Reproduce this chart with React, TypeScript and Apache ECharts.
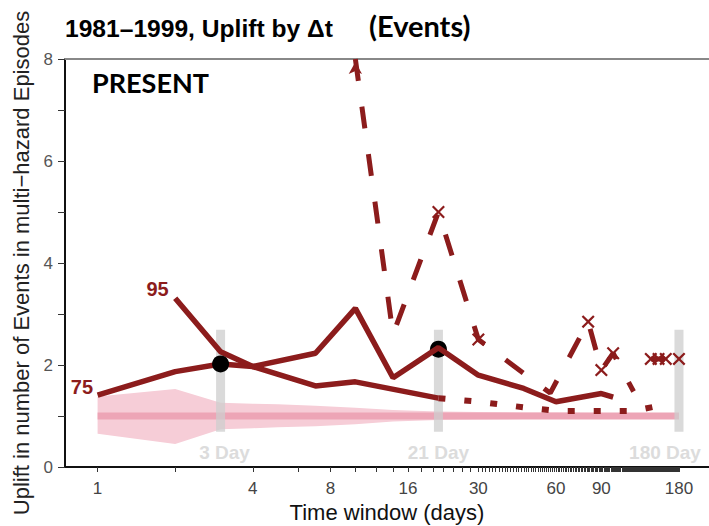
import React, { useEffect, useRef } from "react";
import * as echarts from "echarts";

// ---- data (time windows in days, uplift values) ----
const P75_DAYS = [1, 2, 3, 4, 7, 10, 14, 21, 30, 45, 60, 90, 100];
const P75_VALS = [1.41, 1.87, 2.02, 1.97, 2.23, 3.11, 1.75, 2.34, 1.8, 1.54, 1.28, 1.44, 1.37];

const P95_DAYS = [2, 3, 4, 7, 10, 21];
const P95_VALS = [3.31, 2.26, 1.97, 1.59, 1.67, 1.35];

const P95_DOT_DAYS = [21, 30, 45, 60, 120, 150, 151];
const P95_DOT_VALS = [1.35, 1.28, 1.17, 1.1, 1.1, 1.2, 1.04];

const P99_DAYS = [10, 14, 21, 30, 57, 80, 90, 100, 120];
const P99_VALS = [8, 2.6, 5.0, 2.5, 1.45, 2.85, 1.9, 2.23, 1.48];
const P99_MARKED = [21, 30, 80, 90, 100];

const P99_TAIL_DAYS = [140, 150, 160, 180];
const P99_TAIL_VALS = [2.12, 2.12, 2.12, 2.12];

const BAND_DAYS = [1, 2, 3, 4, 5, 7, 10, 14, 21, 30, 45, 60, 90, 120, 180];
const BAND_HI = [1.38, 1.53, 1.26, 1.24, 1.23, 1.2, 1.16, 1.12, 1.09, 1.08, 1.07, 1.07, 1.06, 1.06, 1.05];
const BAND_LO = [0.65, 0.45, 0.74, 0.76, 0.78, 0.8, 0.84, 0.89, 0.92, 0.93, 0.94, 0.95, 0.95, 0.96, 0.96];
const BASELINE = 1.0;

const WINDOW_DAYS = [3, 21, 180];
const WINDOW_LABELS = ["3 Day", "21 Day", "180 Day"];
const WINDOW_LO = 0.69;
const WINDOW_HI = 2.69;
const WINDOW_LABEL_Y = 0.29;

const HIGHLIGHT_DAYS = [3, 21];
const HIGHLIGHT_VALS = [2.02, 2.31];

const CURVE_NAMES = ["75", "95"];

const X_LABEL_DAYS = [1, 4, 8, 16, 30, 60, 90, 180];
const X_TICK_DAYS: number[] = [1, 2, 4, 6, 8, 10, 12, 14, 16, 18, 20, 22, 24, 26, 28];
for (let d = 30; d <= 180; d++) X_TICK_DAYS.push(d);

const lg = (d: number) => Math.log2(d);

const RED = "#8C1C1C";
const CROSS = "path://M0,1.2L1.2,0L5,3.8L8.8,0L10,1.2L6.2,5L10,8.8L8.8,10L5,6.2L1.2,10L0,8.8L3.8,5Z";
const SANS = '"Liberation Sans", Arial, sans-serif';
const CAL = 'Lato, "Open Sans", sans-serif';

const curveLabel = (text: string, dist: number, dy: number) => ({
  show: true,
  formatter: text,
  position: "left",
  distance: dist,
  offset: [0, dy],
  fontFamily: SANS,
  fontWeight: "bold",
  fontSize: 20,
  color: RED,
});

export default function App() {
  const ref = useRef<HTMLDivElement>(null);

  useEffect(() => {
    if (!ref.current) return;
    const chart = echarts.init(ref.current, null, { renderer: "svg" });

    const xMin = -0.42;
    const xMax = 7.879;

    const option: any = {
      animation: false,
      backgroundColor: "#ffffff",
      grid: { left: 65, right: 0, top: 59, bottom: 59, outerBoundsMode: "none", containLabel: false },
      xAxis: [
        {
          type: "value",
          min: xMin,
          max: xMax,
          name: "Time window (days)",
          nameLocation: "middle",
          nameGap: 33,
          nameTextStyle: { fontFamily: SANS, fontSize: 22, color: "#111" },
          axisLine: { show: true, onZero: false, lineStyle: { color: "#111", width: 2 } },
          axisTick: {
            show: true,
            customValues: X_TICK_DAYS.map(lg),
            length: 5,
            lineStyle: { color: "#333", width: 1 },
          },
          axisLabel: {
            customValues: X_LABEL_DAYS.map(lg),
            formatter: (v: number) => String(Math.round(Math.pow(2, v))),
            fontFamily: SANS,
            fontSize: 17,
            color: "#444",
            margin: 13,
          },
          splitLine: { show: false },
        },
        {
          type: "value",
          position: "top",
          min: xMin,
          max: xMax,
          axisLine: { show: true, onZero: false, lineStyle: { color: "#888", width: 2 } },
          axisTick: { show: false },
          axisLabel: { show: false },
          splitLine: { show: false },
        },
      ],
      yAxis: {
        type: "value",
        min: 0,
        max: 8,
        interval: 1,
        name: "Uplift in number of Events in multi\u2212hazard Episodes",
        nameLocation: "middle",
        nameGap: 33,
        nameTextStyle: { fontFamily: SANS, fontSize: 22, color: "#222" },
        axisLine: { show: true, onZero: false, lineStyle: { color: "#111", width: 2 } },
        axisTick: { show: true, length: 7, lineStyle: { color: "#333", width: 1 } },
        axisLabel: {
          formatter: (v: number) => (v % 2 === 0 ? String(v) : ""),
          fontFamily: SANS,
          fontSize: 17,
          color: "#555",
          margin: 12,
        },
        splitLine: { show: false },
      },
      graphic: [
        {
          type: "text",
          left: 65,
          top: 16,
          style: { text: "1981\u20131999, Uplift by \u0394t", fontFamily: SANS, fontWeight: "bold", fontSize: 24.6, fill: "#000" },
        },
        {
          type: "text",
          left: 369,
          top: 11,
          style: { text: "(Events)", fontFamily: CAL, fontWeight: "bold", fontSize: 29, fill: "#000" },
        },
        {
          type: "text",
          left: 92,
          top: 69,
          style: { text: "PRESENT", fontFamily: CAL, fontWeight: "bold", fontSize: 27, fill: "#000" },
        },
      ],
      series: [
        {
          type: "custom",
          z: 1,
          silent: true,
          data: [[0, 0]],
          renderItem: (_p: any, api: any) => {
            const top = BAND_DAYS.map((d, i) => api.coord([lg(d), BAND_HI[i]]));
            const bot = BAND_DAYS.map((d, i) => api.coord([lg(d), BAND_LO[i]])).reverse();
            return { type: "polygon", shape: { points: top.concat(bot) }, style: { fill: "#F6CDD7" } };
          },
        },
        {
          type: "line",
          z: 2,
          silent: true,
          symbol: "none",
          data: [[lg(1), BASELINE], [lg(180), BASELINE]],
          lineStyle: { color: "#EDA5B6", width: 7 },
        },
        {
          type: "custom",
          z: 3,
          silent: true,
          data: WINDOW_DAYS.map((d, i) => [lg(d), WINDOW_LO, WINDOW_HI, i]),
          renderItem: (_p: any, api: any) => {
            const x = api.value(0);
            const i = api.value(3);
            const pTop = api.coord([x, api.value(2)]);
            const pBot = api.coord([x, api.value(1)]);
            const pLab = api.coord([x, WINDOW_LABEL_Y]);
            const lx = Math.min(pLab[0] + (i === 0 ? 4 : 0), 665);
            return {
              type: "group",
              children: [
                {
                  type: "rect",
                  shape: { x: pTop[0] - 4.5, y: pTop[1], width: 9, height: pBot[1] - pTop[1] },
                  style: { fill: "rgba(205,205,205,0.75)" },
                },
                {
                  type: "text",
                  style: {
                    text: WINDOW_LABELS[i],
                    x: lx,
                    y: pLab[1],
                    align: "center",
                    verticalAlign: "middle",
                    fontFamily: SANS,
                    fontWeight: "bold",
                    fontSize: 19,
                    fill: "#DCDCDC",
                  },
                },
              ],
            };
          },
        },
        {
          type: "scatter",
          z: 4,
          silent: true,
          symbolSize: 17,
          itemStyle: { color: "#000", opacity: 1 },
          data: [[lg(HIGHLIGHT_DAYS[1]), HIGHLIGHT_VALS[1]]],
        },
        {
          type: "line",
          z: 5,
          silent: true,
          symbol: "none",
          data: P75_DAYS.map((d, i) => [lg(d), P75_VALS[i]]),
          lineStyle: { color: RED, width: 5.5 },
        },
        {
          type: "line",
          z: 5,
          silent: true,
          symbol: "none",
          data: P95_DAYS.map((d, i) => [lg(d), P95_VALS[i]]),
          lineStyle: { color: RED, width: 5.5 },
        },
        {
          type: "line",
          z: 5,
          silent: true,
          symbol: "none",
          data: P95_DOT_DAYS.map((d, i) => [lg(d), P95_DOT_VALS[i]]),
          lineStyle: { color: RED, width: 6, type: [7, 19], cap: "butt" },
        },
        {
          type: "line",
          z: 5,
          silent: true,
          showAllSymbol: true,
          itemStyle: { color: RED },
          data: P99_DAYS.map((d, i) => {
            if (i === 0) return { value: [lg(d), P99_VALS[i]], symbol: "arrow", symbolSize: [10, 12], symbolOffset: [0, 3] };
            if (P99_MARKED.includes(d)) return { value: [lg(d), P99_VALS[i]], symbol: CROSS, symbolSize: 13 };
            return { value: [lg(d), P99_VALS[i]], symbol: "none" };
          }),
          lineStyle: { color: RED, width: 5, type: [22, 26], cap: "butt" },
        },
        {
          type: "line",
          z: 5,
          silent: true,
          showAllSymbol: true,
          symbol: CROSS,
          symbolSize: 13,
          itemStyle: { color: RED },
          data: P99_TAIL_DAYS.map((d, i) => [lg(d), P99_TAIL_VALS[i]]),
          lineStyle: { color: RED, width: 5, type: [14, 14], cap: "butt" },
        },
        {
          type: "scatter",
          z: 6,
          silent: true,
          symbolSize: 17,
          itemStyle: { color: "#000", opacity: 1 },
          data: [[lg(HIGHLIGHT_DAYS[0]), HIGHLIGHT_VALS[0]]],
        },
        {
          // curve names next to the start of the 75th and 95th percentile lines
          type: "scatter",
          z: 7,
          silent: true,
          symbolSize: 1,
          itemStyle: { color: "rgba(0,0,0,0)", opacity: 1 },
          data: [
            { value: [lg(P75_DAYS[0]), P75_VALS[0]], label: curveLabel(CURVE_NAMES[0], 4, -8) },
            { value: [lg(P95_DAYS[0]), P95_VALS[0]], label: curveLabel(CURVE_NAMES[1], 6, -9) },
          ],
        },
      ],
    };

    chart.setOption(option);
    return () => chart.dispose();
  }, []);

  return (
    <div
      ref={ref}
      style={{ position: "fixed", left: 0, top: 0, width: 709, height: 526, background: "#fff" }}
    />
  );
}
